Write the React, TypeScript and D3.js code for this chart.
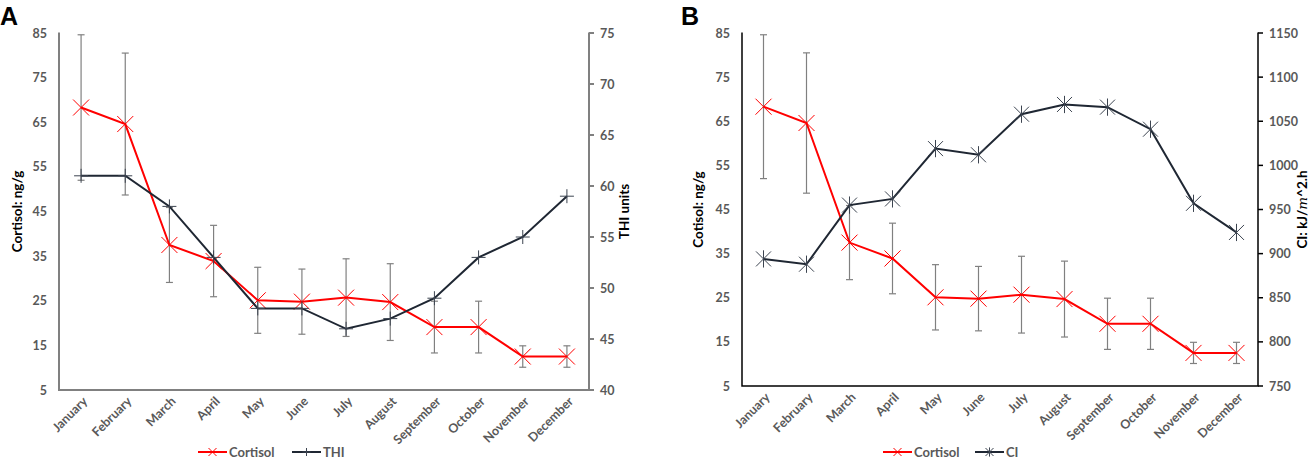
import React, { useEffect, useRef } from "react";
import * as d3 from "d3";

const months = [
  "January", "February", "March", "April", "May", "June",
  "July", "August", "September", "October", "November", "December",
];
const cortisol = [68.3, 64.6, 37.5, 33.9, 25.1, 24.8, 25.7, 24.7, 19.1, 19.1, 12.5, 12.5];
const cortisolErr = [16.3, 15.9, 8.4, 8.0, 7.4, 7.3, 8.7, 8.6, 5.8, 5.8, 2.4, 2.4];
const thi = [61, 61, 58, 53, 48, 48, 46, 47, 49, 53, 55, 59];
const ci = [894, 888, 955, 962, 1019, 1012, 1058, 1069, 1066, 1041, 957, 924];
const cortisolTicks = [5, 15, 25, 35, 45, 55, 65, 75, 85];
const thiTicks = [40, 45, 50, 55, 60, 65, 70, 75];
const ciTicks = [750, 800, 850, 900, 950, 1000, 1050, 1100, 1150];

const FONT = "Lato, 'Open Sans', sans-serif";
const TICK_GRAY = "#595959";
const DARK = "#1f2733";
const TICK_SIZE = 12.5;

type Marker = "x" | "plus" | "star";

interface PanelCfg {
  letter: string;
  letterX: number;
  x0: number;
  x1: number;
  y0: number;
  y1: number;
  axisColor: string;
  axisWidth: number;
  leftTitle: string;
  leftTitleX: number;
  rightTitle: string;
  rightTitleX: number;
  rightValues: number[];
  rightTicks: number[];
  secondName: string;
  secondMarker: Marker;
  legendX: number;
  legend2X: number;
}

const drawMarker = (
  g: d3.Selection<SVGGElement, unknown, null, undefined>,
  type: Marker,
  x: number,
  y: number,
  r: number,
  color: string,
  w = 1
) => {
  const segs: number[][] = [];
  if (type === "x" || type === "star") {
    segs.push([x - r, y - r, x + r, y + r], [x - r, y + r, x + r, y - r]);
  }
  if (type === "plus") {
    segs.push([x - r, y, x + r, y], [x, y - r, x, y + r]);
  }
  if (type === "star") {
    segs.push([x, y - r * 1.15, x, y + r * 1.15]);
  }
  segs.forEach((s) =>
    g.append("line")
      .attr("x1", s[0]).attr("y1", s[1]).attr("x2", s[2]).attr("y2", s[3])
      .attr("stroke", color).attr("stroke-width", w)
  );
};

const panels: PanelCfg[] = [
  {
    letter: "A", letterX: 0, x0: 59, x1: 589, y0: 33, y1: 390,
    axisColor: "#808080", axisWidth: 2,
    leftTitle: "Cortisol: ng/g", leftTitleX: 22,
    rightTitle: "THI units", rightTitleX: 629,
    rightValues: thi, rightTicks: thiTicks,
    secondName: "THI", secondMarker: "plus",
    legendX: 198, legend2X: 292,
  },
  {
    letter: "B", letterX: 681, x0: 742, x1: 1258, y0: 33, y1: 386,
    axisColor: "#000000", axisWidth: 1.5,
    leftTitle: "Cotisol: ng/g", leftTitleX: 703,
    rightTitle: "CI", rightTitleX: 1307,
    rightValues: ci, rightTicks: ciTicks,
    secondName: "CI", secondMarker: "star",
    legendX: 883, legend2X: 975,
  },
];

const App: React.FC = () => {
  const svgRef = useRef<SVGSVGElement>(null);

  useEffect(() => {
    const svg = d3.select(svgRef.current);
    svg.selectAll("*").remove();

    panels.forEach((p) => {
      const g = svg.append("g");
      const x = d3.scaleBand<string>().domain(months).range([p.x0, p.x1]);
      const cx = (m: string) => (x(m) || 0) + x.bandwidth() / 2;
      const yL = d3.scaleLinear().domain([5, 85]).range([p.y1, p.y0]);
      const rt = p.rightTicks;
      const yR = d3.scaleLinear().domain([rt[0], rt[rt.length - 1]]).range([p.y1, p.y0]);

      // panel letter
      g.append("text").attr("x", p.letterX).attr("y", 25)
        .attr("font-family", "Arial, 'Liberation Sans', sans-serif")
        .attr("font-weight", "bold").attr("font-size", 25).text(p.letter);

      // left tick labels
      cortisolTicks.forEach((t) => {
        g.append("text").attr("x", p.x0 - 12).attr("y", yL(t) + 4.5)
          .attr("text-anchor", "end").attr("font-family", FONT)
          .attr("font-weight", "bold").attr("font-size", TICK_SIZE)
          .attr("fill", TICK_GRAY).text(t);
      });
      // right ticks + labels
      rt.forEach((t) => {
        g.append("line").attr("x1", p.x1).attr("x2", p.x1 + 5)
          .attr("y1", yR(t)).attr("y2", yR(t))
          .attr("stroke", p.axisColor).attr("stroke-width", p.axisWidth);
        g.append("text").attr("x", p.x1 + 11).attr("y", yR(t) + 4.5)
          .attr("font-family", FONT).attr("font-weight", "bold")
          .attr("font-size", TICK_SIZE).attr("fill", TICK_GRAY).text(t);
      });

      // axes lines
      g.append("path")
        .attr("d", `M${p.x0},${p.y0 - 0.5}V${p.y1}H${p.x1}V${p.y0 - 0.5}`)
        .attr("fill", "none").attr("stroke", p.axisColor)
        .attr("stroke-width", p.axisWidth);

      // x labels
      months.forEach((m) => {
        const px = cx(m) + 4;
        const py = p.y1 + 9;
        g.append("text").attr("transform", `translate(${px},${py}) rotate(-45)`)
          .attr("text-anchor", "end").attr("dy", "0.35em")
          .attr("font-family", FONT).attr("font-weight", "bold")
          .attr("font-size", TICK_SIZE).attr("fill", TICK_GRAY).text(m);
      });

      // axis titles
      const midY = (p.y0 + p.y1) / 2;
      g.append("text").attr("transform", `translate(${p.leftTitleX},${midY}) rotate(-90)`)
        .attr("text-anchor", "middle").attr("font-family", FONT)
        .attr("font-weight", "bold").attr("font-size", 13.5).attr("fill", "#000")
        .text(p.leftTitle);
      const rtText = g.append("text")
        .attr("transform", `translate(${p.rightTitleX},${midY}) rotate(-90)`)
        .attr("text-anchor", "middle").attr("font-family", FONT)
        .attr("font-weight", "bold").attr("font-size", 13.5).attr("fill", "#000");
      if (p.secondName === "CI") {
        rtText.append("tspan").text("CI: kJ/");
        rtText.append("tspan").attr("font-style", "italic")
          .attr("font-weight", "normal").attr("font-family", "'DejaVu Serif', serif")
          .text("m");
        rtText.append("tspan").text("^2.h");
      } else {
        rtText.text(p.rightTitle);
      }

      // error bars
      months.forEach((m, i) => {
        const px = cx(m);
        const hi = yL(cortisol[i] + cortisolErr[i]);
        const lo = yL(cortisol[i] - cortisolErr[i]);
        g.append("line").attr("x1", px).attr("x2", px).attr("y1", hi).attr("y2", lo)
          .attr("stroke", "#808080").attr("stroke-width", 1.2);
        [hi, lo].forEach((yy) =>
          g.append("line").attr("x1", px - 3.5).attr("x2", px + 3.5)
            .attr("y1", yy).attr("y2", yy)
            .attr("stroke", "#808080").attr("stroke-width", 1.2)
        );
      });

      // cortisol line
      const lineL = d3.line<number>().x((_, i) => cx(months[i])).y((d) => yL(d));
      g.append("path").attr("d", lineL(cortisol) || "").attr("fill", "none")
        .attr("stroke", "#ff0000").attr("stroke-width", 2);
      cortisol.forEach((v, i) => drawMarker(g, "x", cx(months[i]), yL(v), 8, "#ff0000"));

      // second series
      const lineR = d3.line<number>().x((_, i) => cx(months[i])).y((d) => yR(d));
      g.append("path").attr("d", lineR(p.rightValues) || "").attr("fill", "none")
        .attr("stroke", DARK).attr("stroke-width", 2);
      p.rightValues.forEach((v, i) =>
        drawMarker(g, p.secondMarker, cx(months[i]), yR(v), p.secondMarker === "plus" ? 7 : 7.5, "#3c4450")
      );

      // legend
      const ly = 452;
      g.append("line").attr("x1", p.legendX).attr("x2", p.legendX + 29)
        .attr("y1", ly).attr("y2", ly).attr("stroke", "#ff0000").attr("stroke-width", 2);
      drawMarker(g, "x", p.legendX + 14.5, ly, 4, "#ff0000");
      g.append("text").attr("x", p.legendX + 31).attr("y", ly + 5)
        .attr("font-family", FONT).attr("font-weight", "bold").attr("font-size", 13)
        .attr("fill", TICK_GRAY).text("Cortisol");
      g.append("line").attr("x1", p.legend2X).attr("x2", p.legend2X + 29)
        .attr("y1", ly).attr("y2", ly).attr("stroke", DARK).attr("stroke-width", 2);
      drawMarker(g, p.secondMarker, p.legend2X + 14.5, ly, 4, "#3c4450");
      g.append("text").attr("x", p.legend2X + 31).attr("y", ly + 5)
        .attr("font-family", FONT).attr("font-weight", "bold").attr("font-size", 13)
        .attr("fill", TICK_GRAY).text(p.secondName);
    });
  }, []);

  return (
    <svg
      ref={svgRef}
      width={1315}
      height={459}
      style={{ position: "absolute", left: 0, top: 0, background: "#fff" }}
    />
  );
};

export default App;
